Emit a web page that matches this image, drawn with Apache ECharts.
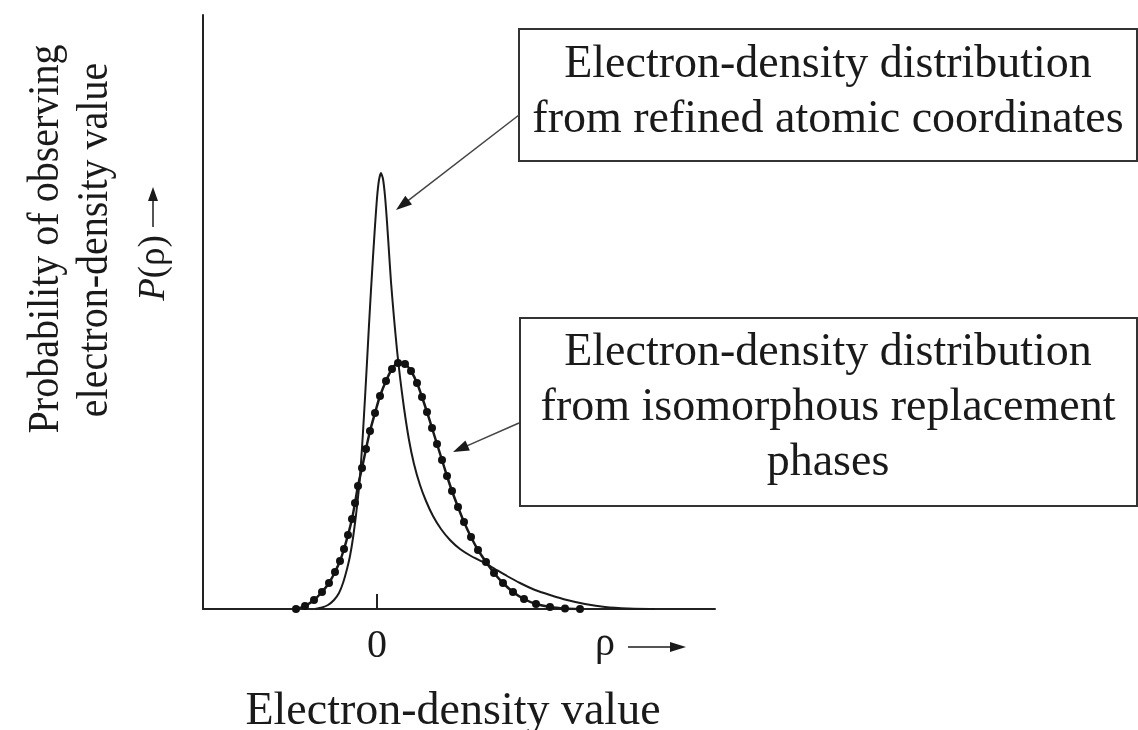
<!DOCTYPE html>
<html>
<head>
<meta charset="utf-8">
<script src="https://cdn.jsdelivr.net/npm/echarts@6/dist/echarts.min.js"></script>
<style>
html,body{margin:0;padding:0;background:#fff;}
#chart{width:1138px;height:730px;}
</style>
</head>
<body>
<div id="chart"></div>
<script>
// ---- data (arbitrary units: x = electron-density value, y = probability) ----
const refinedX = [-0.62,-0.55,-0.49,-0.43,-0.38,-0.34,-0.30,-0.27,-0.24,-0.21,-0.18,-0.16,-0.14,-0.12,-0.10,-0.08,-0.06,-0.04,-0.02,0.00,0.02,0.04,0.06,0.08,0.10,0.12,0.14,0.17,0.20,0.23,0.27,0.32,0.37,0.43,0.49,0.56,0.64,0.73,0.83,0.94,1.06,1.18,1.30,1.43,1.58,1.73,1.90,2.08,2.28,2.51,2.78];
const refinedY = [0,0.015,0.04,0.09,0.16,0.26,0.40,0.53,0.71,0.94,1.21,1.46,1.77,2.11,2.47,2.84,3.19,3.52,3.83,4.11,4.29,4.36,4.30,4.13,3.87,3.57,3.27,2.91,2.59,2.32,2.01,1.69,1.45,1.24,1.08,0.93,0.80,0.69,0.60,0.53,0.47,0.40,0.33,0.26,0.19,0.14,0.09,0.05,0.02,0.005,0];
const isoX = [-0.81,-0.72,-0.63,-0.55,-0.48,-0.42,-0.37,-0.33,-0.29,-0.25,-0.22,-0.19,-0.15,-0.11,-0.07,-0.02,0.03,0.09,0.15,0.21,0.28,0.34,0.40,0.45,0.50,0.55,0.60,0.65,0.70,0.75,0.81,0.87,0.94,1.01,1.09,1.17,1.26,1.36,1.47,1.59,1.73,1.88,2.03];
const isoY = [0,0.03,0.09,0.17,0.26,0.37,0.48,0.60,0.74,0.90,1.06,1.23,1.41,1.60,1.78,1.96,2.13,2.28,2.40,2.46,2.45,2.38,2.26,2.12,1.97,1.81,1.65,1.49,1.33,1.18,1.02,0.87,0.72,0.59,0.47,0.36,0.26,0.17,0.10,0.05,0.02,0.005,0];
const xTickValues = [0];
const xTickLabels = ['0'];
const yTitleLines = ['Probability of observing', 'electron-density value'];
const xTitle = 'Electron-density value';
const box1Lines = ['Electron-density distribution', 'from refined atomic coordinates'];
const box2Lines = ['Electron-density distribution', 'from isomorphous replacement', 'phases'];

const FONT = "'Liberation Serif', 'Times New Roman', serif";
const INK = '#1a1a1a';

function arrow(from, to, color, width, hl, hw) {
  const dx = to[0] - from[0], dy = to[1] - from[1];
  const len = Math.sqrt(dx*dx + dy*dy);
  const ux = dx/len, uy = dy/len;
  const bx = to[0] - hl*ux, by = to[1] - hl*uy;
  const nx = -uy, ny = ux;
  return [
    {type:'line', shape:{x1:from[0], y1:from[1], x2:bx + ux*2, y2:by + uy*2}, style:{stroke:color, lineWidth:width}, silent:true},
    {type:'polygon', shape:{points:[[to[0],to[1]],[bx+hw*nx,by+hw*ny],[bx-hw*nx,by-hw*ny]]}, style:{fill:INK}, silent:true}
  ];
}
function textEl(str, x, y, size, opts) {
  opts = opts || {};
  return Object.assign({
    type:'text', x:x, y:y, silent:true,
    style:Object.assign({text:str, fontSize:size, fontFamily:FONT, fill:INK, align:'center', verticalAlign:'middle'}, opts.style || {})
  }, opts.el || {});
}

const graphic = [];
// annotation boxes
graphic.push({type:'rect', shape:{x:519, y:29, width:618, height:132}, style:{fill:'#fff', stroke:'#333', lineWidth:2}, silent:true});
graphic.push({type:'rect', shape:{x:520, y:318, width:617, height:188}, style:{fill:'#fff', stroke:'#333', lineWidth:2}, silent:true});
box1Lines.forEach((t,i)=>graphic.push(textEl(t, 828, 64.5 + i*55, 46)));
box2Lines.forEach((t,i)=>graphic.push(textEl(t, 828, 352.5 + i*55, 46)));
arrow([519,115],[396,210],'#444',1.5,16,5.5).forEach(e=>graphic.push(e));
arrow([519,423],[453,452],'#444',1.5,16,5.5).forEach(e=>graphic.push(e));
// y title (rotated, glyphs slightly tall as in the reference)
graphic.push(textEl(yTitleLines[0], 46, 239, 40, {el:{rotation:Math.PI/2, scaleY:1.12}}));
graphic.push(textEl(yTitleLines[1], 95, 240, 40, {el:{rotation:Math.PI/2, scaleY:1.12}}));
graphic.push({type:'text', x:154, y:268, rotation:Math.PI/2, silent:true,
  style:{text:'{i|P}(ρ)', fontSize:37, fontFamily:FONT, fill:INK, align:'center', verticalAlign:'middle',
    rich:{i:{fontStyle:'italic', fontSize:37, fontFamily:FONT, fill:INK}}}});
arrow([153,227],[153,187],'#555',2,14,5).forEach(e=>graphic.push(e));
// x-axis side texts
graphic.push(textEl('ρ', 595, 644, 40, {style:{align:'left'}}));
arrow([628,647],[686,647],'#555',2,16,5).forEach(e=>graphic.push(e));
graphic.push(textEl(xTitle, 453, 711.5, 46));

const chart = echarts.init(document.getElementById('chart'), null, {renderer:'canvas'});
chart.setOption({
  animation:false,
  backgroundColor:'#fff',
  grid:{left:203, right:423, top:15, bottom:121},
  xAxis:{
    type:'value', min:-1.74, max:3.38,
    splitLine:{show:false},
    axisLine:{show:true, onZero:false, lineStyle:{color:'#222', width:2}},
    axisTick:{show:true, inside:true, length:15, customValues:xTickValues, lineStyle:{color:'#222', width:2}},
    axisLabel:{show:true, customValues:xTickValues, formatter:(v)=>xTickLabels[xTickValues.indexOf(v)] ?? '', fontSize:40, fontFamily:FONT, color:INK, margin:17}
  },
  yAxis:{
    type:'value', min:0, max:5.94,
    splitLine:{show:false},
    axisLine:{show:true, onZero:false, lineStyle:{color:'#222', width:2}},
    axisTick:{show:false},
    axisLabel:{show:false}
  },
  series:[
    {type:'line', name:'refined', data:refinedX.map((x,i)=>[x, refinedY[i]]), showSymbol:false, smooth:0.2,
     lineStyle:{color:'#1a1a1a', width:2}, z:3},
    {type:'line', name:'isomorphous', data:isoX.map((x,i)=>[x, isoY[i]]), symbol:'circle', symbolSize:8, showSymbol:true, smooth:0.3,
     itemStyle:{color:'#111'}, lineStyle:{color:'#1a1a1a', width:2.5}, z:4}
  ],
  graphic:graphic
});
</script>
</body>
</html>
